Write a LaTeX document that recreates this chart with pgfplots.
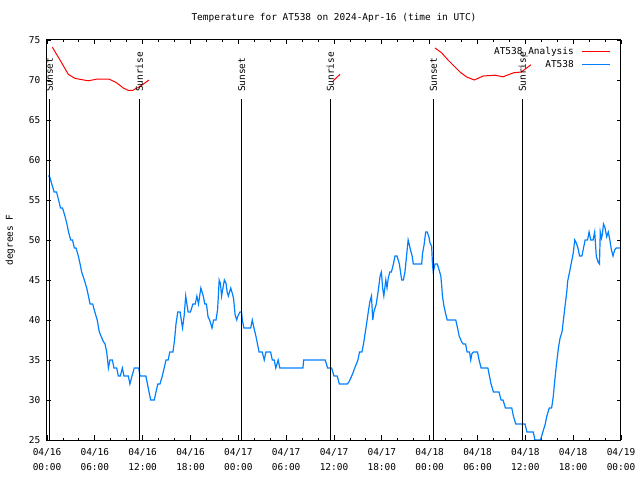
\documentclass[border=0pt]{standalone}
\usepackage{fontspec}
\usepackage{pgfplots}
\pgfplotsset{compat=1.18}
\newfontfamily\gp{DejaVu Sans Mono}
\newcommand\gpf{\gp\fontsize{9.5}{15}\selectfont}
\definecolor{gpblue}{RGB}{0,128,255}
\definecolor{gpred}{RGB}{255,0,0}
\begin{document}
\begin{tikzpicture}
\path[use as bounding box] (0,0) rectangle (640bp,480bp);
\begin{axis}[
  at={(47bp,40bp)}, anchor=south west,
  scale only axis, width=574bp, height=400bp,
  xmin=0, xmax=72, ymin=25, ymax=75,
  xtick={0,6,...,72},
  xticklabels={{04/16\\00:00},{04/16\\06:00},{04/16\\12:00},{04/16\\18:00},{04/17\\00:00},{04/17\\06:00},{04/17\\12:00},{04/17\\18:00},{04/18\\00:00},{04/18\\06:00},{04/18\\12:00},{04/18\\18:00},{04/19\\00:00}},
  minor x tick num=2,
  ytick={25,30,...,75},
  tick align=inside,
  major tick length=4.5bp, minor tick length=2.2bp,
  every tick/.style={black, line width=0.8bp},
  axis line style={black, line width=1bp},
  /pgf/number format/assume math mode=true,
  tick label style={font=\gpf},
  xticklabel style={align=center, inner sep=0pt, anchor=north, yshift=-8.5bp},
  yticklabel style={inner sep=0pt, anchor=east, xshift=-6.5bp},
  ylabel={degrees F},
  ylabel style={font=\gpf, at={(axis description cs:-0.064,0.5)}, anchor=center},
  title={Temperature for AT538 on 2024-Apr-16 (time in UTC)},
  title style={font=\gpf, at={(axis description cs:0.5,1)}, anchor=base, inner sep=0pt, yshift=14bp},
  legend style={at={(rel axis cs:0.983,0.985)}, anchor=north east, draw=none, fill=none, inner sep=0pt, font=\gpf,
    nodes={inner sep=1bp, text height=7bp, text depth=2bp}, row sep=2bp},
  legend cell align=right,
  legend plot pos=right,
  legend image code/.code={\path (0bp,0bp); \draw[#1] (7bp,0bp) -- (35bp,0bp);},
  unbounded coords=jump,
]
\addplot[gpred, line width=1bp] coordinates {
(0.67,74.1) (1.63,72.5) (2.68,70.7) (3.51,70.2) (5.18,69.9) (6.2,70.1) (7.8,70.1) (8.66,69.7) (9.57,69.0) (10.2,68.7) (10.75,68.7) (11.67,69.2) (12.8,70.0)
(20,nan)
(35.9,69.9) (36.75,70.7)
(40,nan)
(48.67,74.0) (49.5,73.4) (50.3,72.5) (51.8,71.0) (52.6,70.4) (53.6,70.0) (54.7,70.5) (56.2,70.6) (57.2,70.4) (58.5,70.9) (59.5,71.0) (60.7,71.9)
};
\addlegendentry{AT538\_Analysis}
\addplot[gpblue, line width=1.2bp] coordinates {
(0.1,58) (0.3,58) (0.6,57) (0.9,56) (1.2,56) (1.45,55) (1.7,54) (1.95,54) (2.25,53) (2.5,52) (2.7,51) (2.97,50) (3.2,50) (3.43,49) (3.64,49) (3.93,48) (4.15,47) (4.35,46) (4.68,45) (4.98,44) (5.2,43) (5.4,42) (5.73,42) (6.0,41) (6.3,40) (6.56,38.5) (6.77,38) (7.07,37.3) (7.28,37) (7.49,36) (7.6,35) (7.7,34) (7.9,35) (8.2,35) (8.4,34) (8.74,34) (8.95,33) (9.2,33) (9.45,34) (9.66,33) (10.2,33) (10.4,32) (10.66,33) (10.95,34) (11.5,34) (11.67,33) (12.4,33) (12.6,32) (12.8,31) (13.0,30) (13.46,30) (13.67,31) (13.9,32) (14.17,32) (14.46,33) (14.7,34) (14.93,35) (15.2,35) (15.4,36) (15.8,36) (16.0,37.5) (16.18,39.5) (16.4,41) (16.7,41) (16.9,39.6) (17.0,39) (17.2,40.5) (17.4,43) (17.7,41) (18.0,41) (18.3,42) (18.6,42) (18.8,43) (19.0,42) (19.3,44) (19.6,43) (19.8,42) (20.0,42) (20.2,40.4) (20.4,40) (20.7,39) (20.9,40) (21.2,40) (21.4,41.3) (21.6,45) (21.75,44.6) (21.9,43) (22.25,45) (22.45,44.6) (22.6,43.5) (22.75,43) (23.05,44) (23.25,43.3) (23.4,42.7) (23.6,40.6) (23.8,40) (23.9,40.4) (24.2,41) (24.4,41) (24.5,40) (24.7,39) (25.55,39) (25.75,40) (25.96,39) (26.2,38) (26.4,37) (26.6,36) (27.0,36) (27.25,35) (27.46,36) (28.05,36) (28.26,35) (28.5,35) (28.7,34) (29.0,35) (29.2,34) (32.1,34) (32.2,35) (34.9,35) (35.2,34) (35.7,34) (36.0,33) (36.4,33) (36.67,32) (37.67,32) (37.9,32.3) (38.35,33.3) (38.6,34) (39.0,35) (39.2,36) (39.5,36) (39.7,37) (39.9,38.3) (40.1,39.6) (40.3,41) (40.5,42.3) (40.7,43) (40.86,40) (41.0,41) (41.3,42) (41.56,43.75) (41.8,45.6) (41.95,46) (42.1,44) (42.25,43) (42.5,45) (42.65,44) (42.8,45.2) (43.0,46) (43.2,46) (43.45,47) (43.65,48) (43.9,48) (44.2,47) (44.4,45.6) (44.5,45) (44.7,45) (44.9,46) (45.1,48) (45.3,50) (45.45,49.4) (45.6,48.75) (45.8,48) (45.95,47) (47.0,47) (47.1,48.3) (47.3,49.4) (47.5,51) (47.7,51) (47.9,50.4) (48.05,49.6) (48.25,49.2) (48.35,47) (48.45,46) (48.67,47) (48.96,47) (49.17,46.3) (49.4,45.5) (49.5,44.4) (49.6,43) (49.8,41.7) (50.05,40.6) (50.2,40) (51.27,40) (51.5,39) (51.7,38) (52.0,37.3) (52.2,37) (52.5,37) (52.7,36) (53.0,36) (53.15,35) (53.3,35.8) (53.5,36) (54.0,36) (54.2,35) (54.45,34) (55.3,34) (55.5,33) (55.7,32) (56.0,31) (56.7,31) (56.95,30) (57.2,30) (57.5,29) (58.3,29) (58.5,28) (58.8,27) (59.96,27) (60.2,26) (61.0,26) (61.2,25) (61.9,25) (62.2,26) (62.5,27) (62.7,28) (63.0,29) (63.3,29) (63.5,30.4) (63.7,32.5) (63.9,34.4) (64.15,36.5) (64.35,37.7) (64.6,38.5) (64.8,40.2) (65.0,41.9) (65.2,43.5) (65.3,44.8) (65.6,46.25) (65.8,47.3) (66.0,48.3) (66.2,50) (66.4,49.6) (66.6,49) (66.8,48) (67.1,48) (67.3,49) (67.5,50) (67.8,50) (68.0,51) (68.2,50) (68.5,50) (68.7,51) (68.9,48) (69.1,47.3) (69.3,47) (69.4,51) (69.55,50.2) (69.65,50.6) (69.8,52) (70.0,51.5) (70.2,50.4) (70.4,51) (70.6,50) (70.8,48.75) (71.0,48) (71.2,48.75) (71.4,49) (71.6,49) (71.9,49)
};
\addlegendentry{AT538}
\addplot[black, line width=1bp, forget plot] coordinates {(0.29,25) (0.29,67.6)};
\addplot[black, line width=1bp, forget plot] coordinates {(11.58,25) (11.58,67.6)};
\addplot[black, line width=1bp, forget plot] coordinates {(24.42,25) (24.42,67.6)};
\addplot[black, line width=1bp, forget plot] coordinates {(35.54,25) (35.54,67.6)};
\addplot[black, line width=1bp, forget plot] coordinates {(48.46,25) (48.46,67.6)};
\addplot[black, line width=1bp, forget plot] coordinates {(59.62,25) (59.62,67.6)};
\node[rotate=90, anchor=west, inner sep=0pt, font=\gpf] at (axis cs:0.29,68.5) {Sunset};
\node[rotate=90, anchor=west, inner sep=0pt, font=\gpf] at (axis cs:11.58,68.5) {Sunrise};
\node[rotate=90, anchor=west, inner sep=0pt, font=\gpf] at (axis cs:24.42,68.5) {Sunset};
\node[rotate=90, anchor=west, inner sep=0pt, font=\gpf] at (axis cs:35.54,68.5) {Sunrise};
\node[rotate=90, anchor=west, inner sep=0pt, font=\gpf] at (axis cs:48.46,68.5) {Sunset};
\node[rotate=90, anchor=west, inner sep=0pt, font=\gpf] at (axis cs:59.62,68.5) {Sunrise};
\end{axis}
\end{tikzpicture}
\end{document}
